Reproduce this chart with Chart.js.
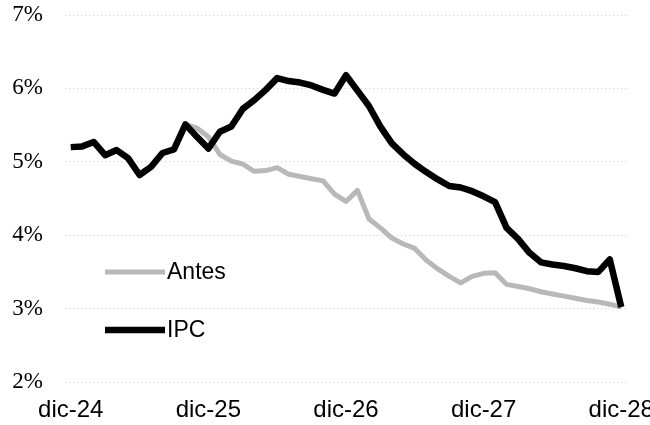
<!DOCTYPE html>
<html>
<head>
<meta charset="utf-8">
<script src="https://cdn.jsdelivr.net/npm/chart.js@4/dist/chart.umd.min.js"></script>
<style>
  html, body { margin: 0; padding: 0; background: #ffffff; }
  #wrap { width: 650px; height: 425px; }
</style>
</head>
<body>
<div id="wrap"><canvas id="c" width="650" height="425"></canvas></div>
<script>
const categories = [
  'dic-24','ene-25','feb-25','mar-25','abr-25','may-25','jun-25','jul-25','ago-25','sep-25','oct-25','nov-25',
  'dic-25','ene-26','feb-26','mar-26','abr-26','may-26','jun-26','jul-26','ago-26','sep-26','oct-26','nov-26',
  'dic-26','ene-27','feb-27','mar-27','abr-27','may-27','jun-27','jul-27','ago-27','sep-27','oct-27','nov-27',
  'dic-27','ene-28','feb-28','mar-28','abr-28','may-28','jun-28','jul-28','ago-28','sep-28','oct-28','nov-28',
  'dic-28'
];
const tickLabels = ['dic-24','dic-25','dic-26','dic-27','dic-28'];
const yTicks = [2, 3, 4, 5, 6, 7];

const ipc = [
  5.20, 5.21, 5.27, 5.09, 5.16, 5.05, 4.82, 4.93, 5.12, 5.17,
  5.51, 5.34, 5.18, 5.41, 5.48, 5.72, 5.84, 5.98, 6.14, 6.10,
  6.08, 6.04, 5.98, 5.93, 6.18, 5.97, 5.76, 5.48, 5.25, 5.10,
  4.97, 4.86, 4.76, 4.67, 4.65, 4.60, 4.53, 4.45, 4.10, 3.95,
  3.76, 3.63, 3.60, 3.58, 3.55, 3.51, 3.50, 3.67, 3.02
];
const antes = [
  null, null, null, null, null, null, null, null, null, null,
  5.51, 5.46, 5.34, 5.10, 5.01, 4.97, 4.87, 4.88, 4.92, 4.83,
  4.80, 4.77, 4.74, 4.56, 4.46, 4.61, 4.22, 4.10, 3.96, 3.88,
  3.82, 3.66, 3.54, 3.44, 3.35, 3.44, 3.48, 3.49, 3.33, 3.30,
  3.27, 3.23, 3.20, 3.17, 3.14, 3.11, 3.09, 3.06, 3.02
];

const legendPlugin = {
  id: 'innerLegend',
  afterDatasetsDraw(chart) {
    const ctx = chart.ctx;
    const area = chart.chartArea;
    const items = [chart.data.datasets[0], chart.data.datasets[1]];
    const x0 = area.left + 40;
    const rows = [area.top + 257, area.top + 315];
    ctx.save();
    items.forEach((ds, i) => {
      const y = rows[i];
      ctx.strokeStyle = ds.borderColor;
      ctx.lineWidth = ds.borderWidth;
      ctx.lineCap = 'butt';
      ctx.beginPath();
      ctx.moveTo(x0, y);
      ctx.lineTo(x0 + 60, y);
      ctx.stroke();
      ctx.fillStyle = '#000';
      ctx.font = '23px "Liberation Sans", Arial, sans-serif';
      ctx.textBaseline = 'middle';
      ctx.textAlign = 'left';
      ctx.fillText(ds.label, x0 + 62, y + 1);
    });
    ctx.restore();
  }
};

new Chart(document.getElementById('c'), {
  type: 'line',
  data: {
    labels: categories,
    datasets: [
      {
        label: 'Antes',
        data: antes,
        borderColor: '#b8b8b8',
        borderWidth: 5,
        pointRadius: 0,
        tension: 0,
        order: 1,
        borderJoinStyle: 'round',
        spanGaps: false
      },
      {
        label: 'IPC',
        data: ipc,
        borderColor: '#000000',
        borderWidth: 6.5,
        pointRadius: 0,
        tension: 0,
        order: 0,
        borderJoinStyle: 'round'
      }
    ]
  },
  options: {
    responsive: false,
    animation: false,
    devicePixelRatio: 1,
    layout: { padding: { top: 15, right: 23, left: 0, bottom: 0 } },
    plugins: {
      legend: { display: false },
      tooltip: { enabled: false }
    },
    scales: {
      x: {
        type: 'category',
        offset: true,
        grid: { display: false, drawTicks: false },
        border: { display: false },
        ticks: {
          autoSkip: false,
          maxRotation: 0,
          minRotation: 0,
          padding: 14,
          color: '#000',
          font: { family: '"Liberation Sans", Arial, sans-serif', size: 24 },
          callback: function(value, index) {
            const l = this.getLabelForValue(value);
            return tickLabels.includes(l) ? l : '';
          }
        },
        afterFit: function(s) { s.height = 43; s.paddingLeft = 0; s.paddingRight = 0; }
      },
      y: {
        min: yTicks[0],
        max: yTicks[yTicks.length - 1],
        afterBuildTicks: function(s) { s.ticks = yTicks.map(v => ({ value: v })); },
        grid: { color: '#d0d0d0', lineWidth: 1, drawTicks: false },
        border: { display: false, dash: [1, 3] },
        ticks: {
          padding: 22,
          color: '#000',
          font: { family: '"Liberation Serif", "Times New Roman", serif', size: 23 },
          callback: v => v + '%'
        },
        afterFit: function(s) { s.width = 65; s.paddingTop = 0; s.paddingBottom = 0; }
      }
    }
  },
  plugins: [legendPlugin]
});
</script>
</body>
</html>
